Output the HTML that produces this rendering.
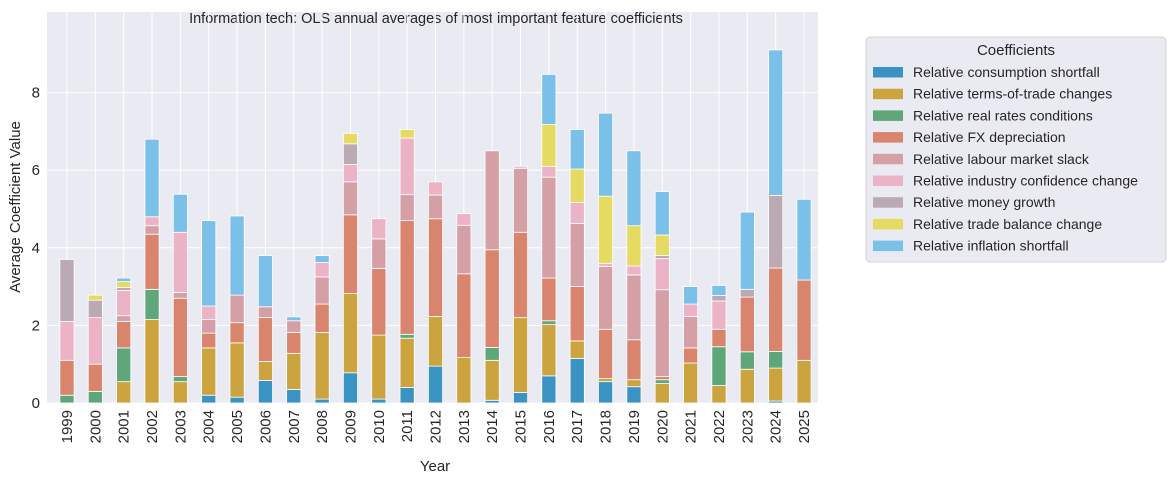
<!DOCTYPE html>
<html><head><meta charset="utf-8"><style>
body{margin:0;background:#fff;font-family:"Liberation Sans",Arial,sans-serif;}
svg text{font-family:"Liberation Sans",Arial,sans-serif;fill:#262626;}
</style></head><body>
<svg id="chart" width="1175" height="484" xmlns="http://www.w3.org/2000/svg">
<rect x="47" y="12" width="771" height="391" fill="#eaeaf2"/>
<text x="436" y="23" font-size="14.5" text-anchor="middle">Information tech: OLS annual averages of most important feature coefficients</text>
<g id="grid"></g><g id="bars"></g><g id="axes"></g>
<text transform="translate(20,207) rotate(-90)" font-size="15" text-anchor="middle">Average Coefficient Value</text>
<text x="435" y="471" font-size="15" text-anchor="middle">Year</text>
<g id="legend">
<rect x="866" y="37" width="300" height="225" rx="4" fill="#eaeaf2" stroke="#cccccc" stroke-width="0.8"/>
<text x="1016" y="55" font-size="15" text-anchor="middle">Coefficients</text>
</g>
</svg>
<script>
const years=[1999,2000,2001,2002,2003,2004,2005,2006,2007,2008,2009,2010,2011,2012,2013,2014,2015,2016,2017,2018,2019,2020,2021,2022,2023,2024,2025];
const seriesNames=["Relative consumption shortfall","Relative terms-of-trade changes","Relative real rates conditions","Relative FX depreciation","Relative labour market slack","Relative industry confidence change","Relative money growth","Relative trade balance change","Relative inflation shortfall"];
const consumption=[0,0,0,0,0,0.2,0.15,0.58,0.35,0.1,0.78,0.1,0.4,0.95,0,0.07,0.27,0.7,1.15,0.55,0.42,0,0,0,0,0.05,0];
const termsOfTrade=[0,0,0.55,2.15,0.55,1.22,1.4,0.49,0.93,1.72,2.04,1.65,1.27,1.28,1.17,1.03,1.93,1.32,0.45,0.08,0.18,0.5,1.03,0.45,0.87,0.85,1.1];
const realRates=[0.2,0.3,0.87,0.78,0.13,0,0,0,0,0,0,0,0.1,0,0,0.33,0,0.1,0,0,0,0.1,0,1.0,0.45,0.43,0];
const fxDep=[0.9,0.7,0.68,1.42,2.02,0.38,0.52,1.13,0.54,0.73,2.03,1.72,2.93,2.52,2.16,2.52,2.2,1.1,1.4,1.27,1.03,0.08,0.39,0.45,1.41,2.15,2.07];
const labour=[0,0,0.15,0.22,0.15,0.35,0.71,0.28,0.3,0.7,0.85,0.76,0.67,0.61,1.25,2.55,1.65,2.6,1.63,1.62,1.67,2.24,0.81,0,0,0,0];
const industry=[1.0,1.2,0.65,0.23,1.55,0.35,0,0,0,0.37,0.45,0.52,1.46,0.34,0.3,0,0.05,0.28,0.54,0.08,0.23,0.8,0.32,0.73,0,0,0];
const money=[1.6,0.45,0.08,0,0,0,0,0,0,0,0.53,0,0,0,0,0,0,0,0,0,0,0.08,0,0.14,0.2,1.87,0];
const trade=[0,0.13,0.15,0,0,0,0,0,0,0,0.27,0,0.22,0,0,0,0,1.08,0.86,1.73,1.04,0.53,0,0,0,0,0];
const inflation=[0,0,0.09,2.0,0.98,2.2,2.04,1.32,0.1,0.18,0,0,0,0,0,0,0,1.29,1.02,2.14,1.93,1.12,0.45,0.26,1.99,3.75,2.08];
const yTicks=[0,2,4,6,8];
const series=[consumption,termsOfTrade,realRates,fxDep,labour,industry,money,trade,inflation];
const colors=["#3a93c3","#cca43f","#5fa67a","#d9846c","#d4a0a6","#ecb3c6","#bba9b3","#e5db62","#7ac0e8"];
const NS="http://www.w3.org/2000/svg";
const X0=47,X1=818,Y0=403,YT=12;
const y=v=>Y0-v*38.8;
const x=i=>67+i*(804-67)/(years.length-1);
const bw=14.2;
function mk(t,a,p){const e=document.createElementNS(NS,t);for(const k in a)e.setAttribute(k,a[k]);p.appendChild(e);return e;}
const grid=document.getElementById('grid'),bars=document.getElementById('bars'),axes=document.getElementById('axes'),leg=document.getElementById('legend');
yTicks.forEach(t=>{
 const l=mk('line',{x1:X0,x2:X1,y1:y(t),y2:y(t),stroke:'#fff','stroke-width':1},grid);
 
 
 const tx=mk('text',{x:40,y:y(t)+5,'font-size':15,'text-anchor':'end'},axes);
 tx.textContent=t;
 
 
});
years.forEach((yr,i)=>{
 const l=mk('line',{x1:x(i),x2:x(i),y1:YT,y2:Y0,stroke:'#fff','stroke-width':1},grid);
 
 
 const tx=mk('text',{transform:`translate(${x(i)+5},${410}) rotate(-90)`,'font-size':15,'text-anchor':'end'},axes);
 tx.textContent=yr;
 
 
 let cum=0;
 series.forEach((s,k)=>{
  const v=s[i];if(v<=0)return;
  const r=mk('rect',{x:x(i)-bw/2,y:y(cum+v),width:bw,height:v*38.8,fill:colors[k],stroke:'#fff','stroke-width':0.8},bars);
  
  
  cum+=v;
 });
});
seriesNames.forEach((n,k)=>{
 const yy=72+k*21.7;
 const g=mk('g',{},leg);
 
 
 mk('rect',{x:873,y:yy-5,width:30,height:10.5,fill:colors[k]},g);
 const t=mk('text',{x:913,y:yy+5,'font-size':14},g);
 t.textContent=n;
});
</script>
</body></html>
